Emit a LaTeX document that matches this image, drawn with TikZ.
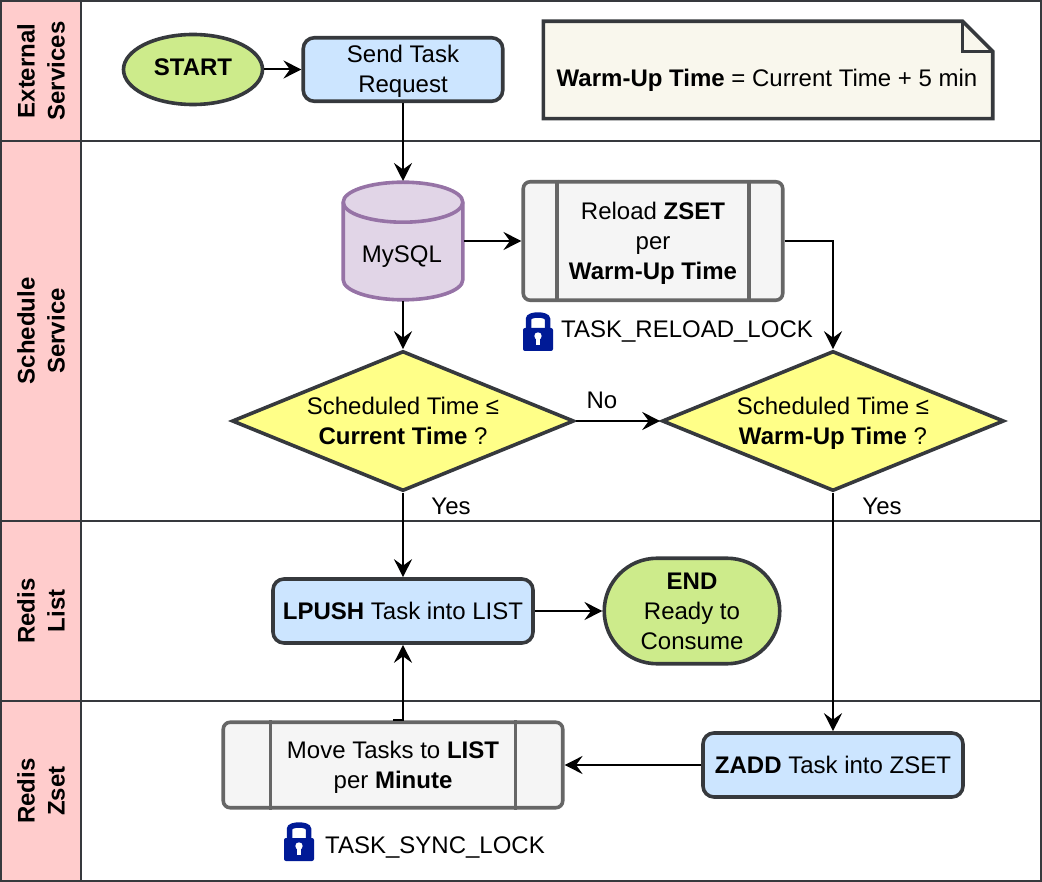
\documentclass[tikz,border=0pt]{standalone}
\usepackage{fontspec}
\setmainfont{Liberation Sans}
\usetikzlibrary{arrows.meta,shapes.geometric,shapes.misc}

\definecolor{strokedark}{HTML}{36393D}
\definecolor{lanepink}{HTML}{FFCCCC}
\definecolor{termgreen}{HTML}{CDEB8B}
\definecolor{taskblue}{HTML}{CCE5FF}
\definecolor{notecream}{HTML}{F9F7ED}
\definecolor{dbpurple}{HTML}{E1D5E7}
\definecolor{dbstroke}{HTML}{9673A6}
\definecolor{procgray}{HTML}{F5F5F5}
\definecolor{procstroke}{HTML}{666666}
\definecolor{decyellow}{HTML}{FFFF88}
\definecolor{lockblue}{HTML}{001A96}

\newcommand{\toplead}{\rule{0pt}{21.5pt}}

\tikzset{
    lockicon/.pic={
        \draw[lockblue, line width=5.5pt] (-9.5,18) -- (-9.5,7)
            .. controls (-9.5,1.7) and (9.5,1.7) .. (9.5,7) -- (9.5,18);
        \fill[lockblue, rounded corners=2pt] (-15,16) rectangle (15,39);
        \fill[white] (0,24) circle[radius=3.7pt];
        \fill[white] (-1.6,24) rectangle (1.6,33);
    }
}

\begin{document}
\begin{tikzpicture}[
    x=1pt, y=-1pt,
    every node/.style={font=\fontsize{24}{30}\selectfont, align=center, text=black},
    lanehead/.style={rectangle, draw=strokedark, line width=2pt, fill=lanepink, rotate=90,
        minimum height=80pt, inner sep=0pt, font=\fontsize{24}{30}\selectfont\bfseries},
    lanebody/.style={rectangle, draw=strokedark, line width=2pt, fill=white, minimum width=960pt},
    terminal/.style={ellipse, draw=strokedark, line width=3.6pt, fill=termgreen, inner sep=0pt},
    task/.style={rectangle, rounded corners=11pt, draw=strokedark, line width=3.6pt, fill=taskblue,
        inner sep=0pt, minimum height=63.5pt},
    process/.style={rectangle, rounded corners=7pt, draw=procstroke, line width=3.6pt, fill=procgray,
        inner sep=0pt},
    procline/.style={draw=procstroke, line width=3.6pt},
    decision/.style={diamond, shape aspect=2.44, draw=strokedark, line width=3.6pt, fill=decyellow,
        minimum width=342pt, minimum height=140pt, inner sep=0pt},
    database/.style={draw=dbstroke, line width=3.6pt, fill=dbpurple},
    link/.style={draw=black, line width=2pt, -{Stealth[length=18pt, width=18pt, inset=6.5pt]}},
]
\useasboundingbox (0,0) rectangle (1042,882);

% Lanes
\node[lanebody, minimum height=140pt] (bodyext) at (561,71) {};
\node[lanebody, minimum height=380pt] (bodysched) at (561,331) {};
\node[lanebody, minimum height=180pt] (bodylist) at (561,611) {};
\node[lanebody, minimum height=180pt] (bodyzset) at (561,791) {};
\node[lanehead, minimum width=140pt] (headext) at (41,71) {External\\Services};
\node[lanehead, minimum width=380pt] (headsched) at (41,331) {Schedule\\Service};
\node[lanehead, minimum width=180pt] (headlist) at (41,611) {Redis\\List};
\node[lanehead, minimum width=180pt] (headzset) at (41,791) {Redis\\Zset};

% External Services
\node[terminal, minimum width=139pt, minimum height=70pt, text depth=5pt] (start) at (193,69.5) {\textbf{START}};
\node[task, minimum width=199.5pt] (send) at (403,69.5) {\toplead Send Task\\Request};
\node[minimum width=449pt, minimum height=97pt, inner sep=0pt] (note) at (768,70) {};
\draw[draw=strokedark, line width=3.6pt, fill=notecream, line join=miter]
    (note.north west) -- ([xshift=-30pt]note.north east) -- ([yshift=-30pt]note.north east)
    -- (note.south east) -- (note.south west) -- cycle;
\draw[draw=strokedark, line width=3.2pt]
    ([xshift=-30pt]note.north east) -- ([xshift=-30pt, yshift=-30pt]note.north east)
    -- ([yshift=-30pt]note.north east);
\node (notetext) at (767,80) {\textbf{Warm-Up Time} = Current Time + 5 min};

% Schedule Service
\node[minimum width=122pt, minimum height=120pt, inner sep=0pt, outer sep=0pt] (mysql) at (403,241) {};
\draw[database] ([xshift=1.2pt, yshift=-21.2pt]mysql.north west)
    arc[start angle=180, end angle=0, x radius=59.8pt, y radius=20pt]
    -- ([xshift=-1.2pt, yshift=21.2pt]mysql.south east)
    arc[start angle=0, end angle=-180, x radius=59.8pt, y radius=20pt] -- cycle;
\draw[database, fill=none] ([xshift=1.2pt, yshift=-21.2pt]mysql.north west)
    arc[start angle=180, end angle=360, x radius=59.8pt, y radius=20pt];
\node (mysqltext) at (402,257) {MySQL};
\node[process, minimum width=259.5pt, minimum height=118.5pt] (reload) at (653,241)
    {\toplead Reload \textbf{ZSET}\\per\\\textbf{Warm-Up Time}};
\draw[procline] ([xshift=35.5pt]reload.north west) -- ([xshift=35.5pt]reload.south west);
\draw[procline] ([xshift=-35.5pt]reload.north east) -- ([xshift=-35.5pt]reload.south east);
\pic (lockreload) at (538,312) {lockicon};
\node[anchor=west, inner sep=0pt] (reloadlock) at (561,332) {TASK\_RELOAD\_LOCK};
\node[decision] (current) at (403,421) {Scheduled Time ≤\\\textbf{Current Time} ?};
\node[decision] (warmup) at (833,421) {\toplead Scheduled Time ≤\\\textbf{Warm-Up Time} ?};
\node (labelno) at (602,400) {No};
\node (labelyesa) at (451,506) {Yes};
\node (labelyesb) at (882,506) {Yes};

% Redis List
\node[task, minimum width=260pt, minimum height=64pt] (lpush) at (403,611) {\textbf{LPUSH} Task into LIST};
\node[rounded rectangle, draw=strokedark, line width=3.6pt, fill=termgreen, inner sep=0pt,
      minimum width=175.5pt, minimum height=105.5pt] (finish) at (692,611)
    {\textbf{END}\\Ready to\\Consume};

% Redis Zset
\node[task, minimum width=260pt, minimum height=64pt] (zadd) at (833,765) {\textbf{ZADD} Task into ZSET};
\node[process, minimum width=339.5pt, minimum height=85.5pt] (move) at (393,765)
    {\toplead Move Tasks to \textbf{LIST}\\per \textbf{Minute}};
\draw[procline] ([xshift=49pt]move.north west) -- ([xshift=49pt]move.south west);
\draw[procline] ([xshift=-49pt]move.north east) -- ([xshift=-49pt]move.south east);
\pic (locksync) at (299,822) {lockicon};
\node[anchor=west, inner sep=0pt] (synclock) at (325,847.5) {TASK\_SYNC\_LOCK};

% Connectors
\draw[link] (start) -- (send);
\draw[link] (send.south) -- (mysql.north);
\draw[link] (mysql.east) -- (reload.west);
\draw[link] (mysql.south) -- (current.north);
\draw[link] (reload.east) -| (warmup.north);
\draw[link] (current.east) -- (warmup.west);
\draw[link] (current.south) -- (lpush.north);
\draw[link] (warmup.south) -- (zadd.north);
\draw[link] (lpush) -- (finish);
\draw[link] (zadd) -- (move);
\draw[link] (move.north) -| (lpush.south);

\end{tikzpicture}
\end{document}
